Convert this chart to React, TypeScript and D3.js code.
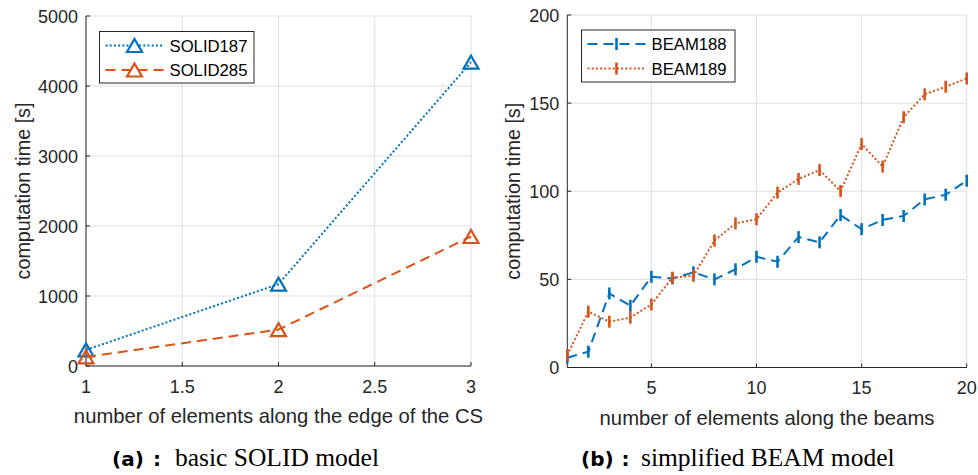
import React from "react";
import * as d3 from "d3";

const solidX = [1, 2, 3];
const solid187 = [230, 1170, 4340];
const solid285 = [130, 520, 1850];
const solidXTicks = [1, 1.5, 2, 2.5, 3];
const solidYTicks = [0, 1000, 2000, 3000, 4000, 5000];

const beamX = [1, 2, 3, 4, 5, 6, 7, 8, 9, 10, 11, 12, 13, 14, 15, 16, 17, 18, 19, 20];
const beam188 = [5.5, 9, 42, 35, 51.5, 50.5, 54, 50, 55.7, 62.8, 60, 74, 71, 86.5, 78.5, 83.7, 86, 95.4, 98, 106];
const beam189 = [7, 31.7, 26, 28.3, 35.8, 51, 52, 72, 81.8, 84.1, 99.2, 107, 112, 100.1, 126.8, 114, 142, 155, 159.3, 164];
const beamXTicks = [5, 10, 15, 20];
const beamYTicks = [0, 50, 100, 150, 200];

const BLUE = "#0072BD";
const RED = "#D95319";
const AX = "#262626";
const GRID = "#dfdfdf";
const FONT = "'Liberation Sans', Arial, sans-serif";

function tri(cx: number, cy: number) {
  const w = 7.5, h = 6.5;
  return `M${cx},${cy - h}L${cx + w},${cy + h}L${cx - w},${cy + h}Z`;
}

function Panel(props: any) {
  const { x0, x1, y0, y1, xDom, yDom, xTicks, yTicks, xFmt, series, xLabel, ylabelX, legend } = props;
  const xs = d3.scaleLinear().domain(xDom).range([x0, x1]);
  const ys = d3.scaleLinear().domain(yDom).range([y0, y1]);
  const line = d3.line<[number, number]>().x(d => xs(d[0])).y(d => ys(d[1]));
  return (
    <g fontFamily={FONT}>
      {xTicks.map((t: number) => (
        <line key={"gx" + t} x1={xs(t)} x2={xs(t)} y1={y0} y2={y1} stroke={GRID} strokeWidth={1} />
      ))}
      {yTicks.map((t: number) => (
        <line key={"gy" + t} x1={x0} x2={x1} y1={ys(t)} y2={ys(t)} stroke={GRID} strokeWidth={1} />
      ))}
      <line x1={x0} x2={x0} y1={y0} y2={y1} stroke={AX} strokeWidth={1} />
      <line x1={x0} x2={x1} y1={y0} y2={y0} stroke={AX} strokeWidth={1} />
      {xTicks.map((t: number) => (
        <g key={"tx" + t}>
          <line x1={xs(t)} x2={xs(t)} y1={y0} y2={y0 - 4} stroke={AX} />
          <text x={xs(t)} y={y0 + 26.5} textAnchor="middle" fontSize={18} fill={AX}>{xFmt(t)}</text>
        </g>
      ))}
      {yTicks.map((t: number) => (
        <g key={"ty" + t}>
          <line x1={x0} x2={x0 + 4} y1={ys(t)} y2={ys(t)} stroke={AX} />
          <text x={x0 - 8} y={ys(t) + 6.5} textAnchor="end" fontSize={18} fill={AX}>{t}</text>
        </g>
      ))}
      <text x={(x0 + x1) / 2} y={y0 + 57} textAnchor="middle" fontSize={20.3} fill={AX}>{xLabel}</text>
      <text transform={`translate(${ylabelX},${(y0 + y1) / 2}) rotate(-90)`} textAnchor="middle" fontSize={19.8} fill={AX}>computation time [s]</text>
      {series.map((s: any, i: number) => {
        const pts: [number, number][] = s.x.map((xv: number, j: number) => [xv, s.y[j]]);
        return (
          <g key={"s" + i}>
            <path d={line(pts) || ""} fill="none" stroke={s.color} strokeWidth={2} strokeDasharray={s.dash} />
            {pts.map((p, j) =>
              s.marker === "tri" ? (
                <path key={j} d={tri(xs(p[0]), ys(p[1]))} fill="none" stroke={s.color} strokeWidth={2.2} />
              ) : (
                <line key={j} x1={xs(p[0])} x2={xs(p[0])} y1={ys(p[1]) - 6} y2={ys(p[1]) + 6} stroke={s.color} strokeWidth={2.6} />
              )
            )}
          </g>
        );
      })}
      <rect x={legend.x} y={legend.y} width={legend.w} height={legend.h} fill="white" stroke={AX} strokeWidth={1} />
      {series.map((s: any, i: number) => {
        const ly = legend.y + 14 + i * 24.5;
        const lx0 = legend.x + 6, lx1 = legend.x + 64, mx = (lx0 + lx1) / 2;
        return (
          <g key={"l" + i}>
            <line x1={lx0} x2={lx1} y1={ly} y2={ly} stroke={s.color} strokeWidth={2} strokeDasharray={s.dash} />
            {s.marker === "tri" ? (
              <path d={tri(mx, ly)} fill="white" stroke={s.color} strokeWidth={2.2} />
            ) : (
              <line x1={mx} x2={mx} y1={ly - 6} y2={ly + 6} stroke={s.color} strokeWidth={2.6} />
            )}
            <text x={legend.x + 70} y={ly + 6} fontSize={16.7} fill="#000">{s.name}</text>
          </g>
        );
      })}
    </g>
  );
}

function Caption(props: any) {
  const { x, colonX, textX, label, text } = props;
  return (
    <g fill="#000">
      <text x={x} y={466} fontFamily="'DejaVu Sans', sans-serif" fontWeight="bold" fontSize={20}>{label}</text>
      <text x={colonX} y={466} textAnchor="middle" fontFamily="'DejaVu Sans', sans-serif" fontWeight="bold" fontSize={20}>:</text>
      <text x={textX} y={466} fontFamily="'Liberation Serif', serif" fontSize={25.5}>{text}</text>
    </g>
  );
}

export default function App() {
  return (
    <svg width={978} height={475} style={{ position: "absolute", left: 0, top: 0, background: "white" }}>
      <Panel
        x0={86} x1={471} y0={366} y1={16}
        xDom={[1, 3]} yDom={[0, 5000]}
        xTicks={solidXTicks} yTicks={solidYTicks}
        xFmt={(t: number) => String(t)}
        xLabel="number of elements along the edge of the CS"
        ylabelX={29.5}
        legend={{ x: 99.5, y: 31.5, w: 154.5, h: 51.5 }}
        series={[
          { name: "SOLID187", x: solidX, y: solid187, color: BLUE, dash: "2,2.2", marker: "tri" },
          { name: "SOLID285", x: solidX, y: solid285, color: RED, dash: "10,6", marker: "tri" },
        ]}
      />
      <Panel
        x0={567.3} x1={966.7} y0={367.5} y1={15}
        xDom={[1, 20]} yDom={[0, 200]}
        xTicks={beamXTicks} yTicks={beamYTicks}
        xFmt={(t: number) => String(t)}
        xLabel="number of elements along the beams"
        ylabelX={519.5}
        legend={{ x: 581.5, y: 30, w: 153.5, h: 52 }}
        series={[
          { name: "BEAM188", x: beamX, y: beam188, color: BLUE, dash: "10,6", marker: "bar" },
          { name: "BEAM189", x: beamX, y: beam189, color: RED, dash: "2,2.2", marker: "bar" },
        ]}
      />
      <Caption x={112} colonX={157} textX={175} label="(a)" text="basic SOLID model" />
      <Caption x={581} colonX={625.5} textX={641} label="(b)" text="simplified BEAM model" />
    </svg>
  );
}
